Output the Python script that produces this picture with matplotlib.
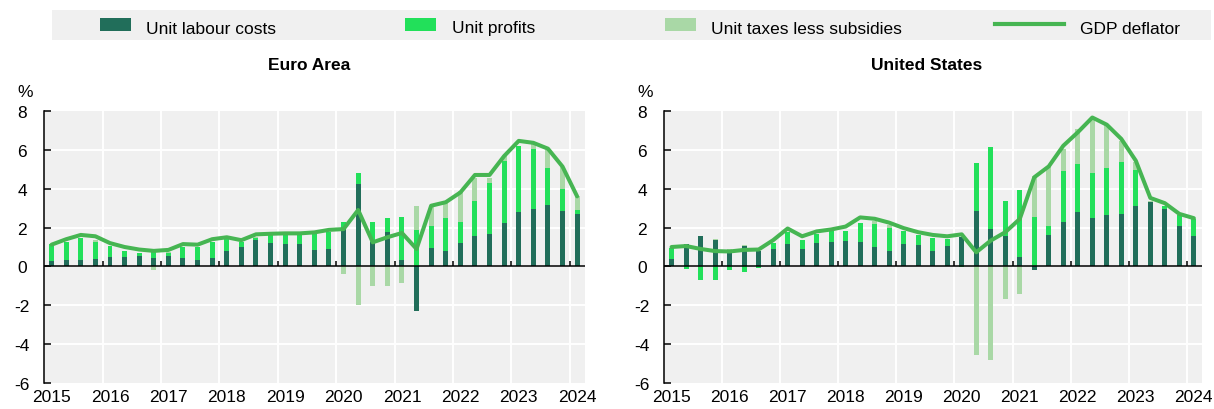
import numpy as np
import matplotlib
matplotlib.use('Agg')
import matplotlib.pyplot as plt
from matplotlib.patches import Rectangle

plt.rcParams['font.family'] = ['Liberation Sans', 'DejaVu Sans']
plt.rcParams['axes.unicode_minus'] = False

# Quarterly data, 2015Q1 .. 2024Q1 (y-o-y %, contributions)
YEARS = list(range(2015, 2025))
N_Q = 37

ea_labour = [0.27, 0.34, 0.34, 0.38, 0.48, 0.48, 0.55, 0.46, 0.55, 0.44, 0.34, 0.42,
             0.78, 1.00, 1.38, 1.20, 1.13, 1.13, 0.85, 0.90, 1.92, 4.22, 1.24, 1.79,
             0.34, -2.30, 0.95, 0.77, 1.21, 1.58, 1.67, 2.23, 2.81, 2.95, 3.15, 2.86,
             2.72]
ea_profits = [0.87, 0.92, 1.14, 0.88, 0.55, 0.32, 0.13, 0.45, 0.13, 0.56, 0.66, 0.86,
              0.62, 0.28, 0.09, 0.40, 0.47, 0.47, 0.83, 0.85, 0.35, 0.60, 1.03, 0.68,
              2.21, 1.87, 1.15, 1.73, 1.06, 1.79, 2.64, 3.19, 3.37, 3.10, 1.89, 1.11,
              0.18]
ea_taxes = [0.00, 0.00, 0.00, 0.09, 0.00, 0.00, 0.00, -0.20, 0.04, 0.00, 0.00, 0.00,
            0.00, 0.00, 0.05, 0.00, 0.00, 0.00, 0.00, 0.00, -0.37, -2.00, -1.02, -1.02,
            -0.83, 1.25, 1.00, 0.80, 1.63, 1.16, 0.22, 0.25, 0.00, 0.27, 0.96, 1.16,
            0.73]
ea_deflator = [1.12, 1.40, 1.62, 1.55, 1.20, 1.00, 0.87, 0.80, 0.85, 1.15, 1.12, 1.40,
               1.50, 1.35, 1.65, 1.68, 1.70, 1.70, 1.75, 1.88, 1.92, 2.90, 1.24, 1.50,
               1.72, 0.90, 3.12, 3.30, 3.80, 4.70, 4.70, 5.67, 6.45, 6.35, 6.05, 5.13,
               3.60]

us_labour = [0.37, 1.15, 1.54, 1.35, 0.85, 1.06, 0.82, 0.88, 1.14, 0.90, 1.21, 1.25,
             1.30, 1.25, 1.00, 0.77, 1.13, 1.08, 0.82, 1.03, 1.50, 2.87, 1.90, 1.54,
             0.51, -0.17, 1.64, 2.27, 2.82, 2.50, 2.62, 2.67, 3.13, 3.30, 2.96, 2.10,
             1.59]
us_profits = [0.60, -0.15, -0.69, -0.69, -0.19, -0.27, -0.10, 0.35, 0.64, 0.48, 0.47, 0.55,
              0.50, 0.99, 1.19, 1.23, 0.67, 0.52, 0.63, 0.39, -0.05, 2.45, 4.22, 1.84,
              3.44, 2.56, 0.46, 2.65, 2.44, 2.30, 2.44, 2.71, 1.84, 0.00, 0.12, 0.55,
              0.85]
us_taxes = [0.00, 0.00, 0.00, 0.08, 0.05, 0.06, 0.00, 0.00, 0.00, 0.00, 0.00, 0.00,
            0.00, 0.00, 0.13, 0.15, 0.00, 0.00, 0.00, 0.00, 0.00, -4.56, -4.82, -1.69,
            -1.40, 2.11, 2.99, 1.11, 1.80, 2.86, 2.20, 1.08, 0.41, 0.08, 0.05, 0.00,
            0.00]
us_deflator = [1.00, 1.05, 0.90, 0.79, 0.77, 0.85, 0.87, 1.35, 1.95, 1.55, 1.80, 1.90,
               2.05, 2.52, 2.45, 2.25, 1.97, 1.76, 1.62, 1.55, 1.65, 0.73, 1.33, 1.76,
               2.44, 4.58, 5.14, 6.20, 6.89, 7.65, 7.28, 6.55, 5.43, 3.52, 3.25, 2.70,
               2.48]

LABELS = ['Unit labour costs', 'Unit profits', 'Unit taxes less subsidies', 'GDP deflator']
C_LABOUR = '#216e5a'
C_PROFIT = '#22e05a'
C_TAX = '#a9d8a6'
C_LINE = '#46b552'
BG = '#f0f0f0'
FS = 12.5

W, H = 1214, 410
quarters = 2015 + 0.125 + 0.25 * np.arange(N_Q)


def draw_panel(ax, title, labour, profits, taxes, deflator):
    ax.set_facecolor(BG)
    pos = np.zeros(N_Q)
    neg = np.zeros(N_Q)
    for vals, col in [(labour, C_LABOUR), (profits, C_PROFIT), (taxes, C_TAX)]:
        v = np.array(vals)
        bottom = np.where(v >= 0, pos, neg)
        ax.bar(quarters, v, width=0.085, bottom=bottom, color=col, linewidth=0, zorder=2)
        pos = pos + np.clip(v, 0, None)
        neg = neg + np.clip(v, None, 0)
    ax.plot(quarters, deflator, color=C_LINE, lw=2.9, solid_joinstyle='round',
            solid_capstyle='round', zorder=4)

    ax.set_xlim(2015, 2024.26)
    ax.set_ylim(-6, 8)
    # white grid at year boundaries and every 2 pp
    for yv in [-4, -2, 2, 4, 6]:
        ax.axhline(yv, color='white', lw=1.4, zorder=1)
    for yr in YEARS[1:]:
        ax.axvline(yr, color='white', lw=1.4, zorder=1)
    ax.axhline(0, color='black', lw=1.1, zorder=3)
    ax.vlines(YEARS[1:], 0, 0.3, color='black', lw=1.1, zorder=3)

    for s in ['top', 'right', 'bottom']:
        ax.spines[s].set_visible(False)
    ax.spines['left'].set_linewidth(1.1)

    ax.set_yticks(range(-6, 9, 2))
    ax.tick_params(axis='y', direction='in', length=5, width=1.1, pad=16, labelsize=FS)
    for lab in ax.get_yticklabels():
        lab.set_horizontalalignment('center')
    ax.set_xticks([y + 0.125 for y in YEARS])
    ax.set_xticklabels([str(y) for y in YEARS])
    ax.tick_params(axis='x', length=0, pad=4, labelsize=FS)

    ax.text(0.489, 1.171, title, transform=ax.transAxes, ha='center', va='center',
            fontsize=12.5, fontweight='bold')
    ax.text(-0.036, 1.072, '%', transform=ax.transAxes, ha='center', va='center',
            fontsize=12.5)


fig = plt.figure(figsize=(W / 100, H / 100), dpi=100)
ax1 = fig.add_axes([44.3 / W, 1 - 384.3 / H, 540.7 / W, 272.6 / H])
ax2 = fig.add_axes([664.3 / W, 1 - 384.3 / H, 537.4 / W, 272.6 / H])
draw_panel(ax1, 'Euro Area', ea_labour, ea_profits, ea_taxes, ea_deflator)
draw_panel(ax2, 'United States', us_labour, us_profits, us_taxes, us_deflator)

# legend band (pixel coordinates inside its own axes)
lg = fig.add_axes([52 / W, 1 - 41 / H, 1159 / W, 30 / H])
lg.set_facecolor(BG)
lg.set_xlim(52, 1211)
lg.set_ylim(41, 11)
lg.set_xticks([])
lg.set_yticks([])
for s in lg.spines.values():
    s.set_visible(False)
for x0, col in [(100, C_LABOUR), (405, C_PROFIT), (665, C_TAX)]:
    lg.add_patch(Rectangle((x0, 19), 31, 12.7, color=col, lw=0))
lg.plot([995, 1064], [25.3, 25.3], color=C_LINE, lw=3)
for xt, lab in zip([146, 452, 711, 1080], LABELS):
    lg.text(xt, 33.5, lab, fontsize=FS, va='baseline', ha='left')

fig.savefig('out.png', dpi=100)
